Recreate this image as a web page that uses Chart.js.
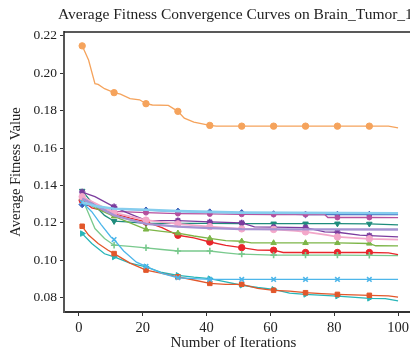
<!DOCTYPE html>
<html>
<head>
<meta charset="utf-8">
<script src="https://cdn.jsdelivr.net/npm/chart.js@4.4.1/dist/chart.umd.min.js"></script>
<style>
  html, body { margin: 0; padding: 0; background: #fff; overflow: hidden; }
  #wrap { width: 420px; height: 357px; }
</style>
</head>
<body>
<div id="wrap"><canvas id="chart" width="420" height="357"></canvas></div>
<script>
const chartTitle = "Average Fitness Convergence Curves on Brain_Tumor_1";

// iterations that carry a marker
const markerIters = [1, 11, 21, 31, 41, 51, 61, 71, 81, 91];
const xTicks = [0, 20, 40, 60, 80, 100];
const yTicks = [0.08, 0.10, 0.12, 0.14, 0.16, 0.18, 0.20, 0.22];

// [iteration, average fitness]
const orangeCurve = [[1,0.2146],[3,0.207],[5,0.1944],[6,0.194],[8,0.1917],[11,0.1896],[13,0.1888],[16,0.1864],[19,0.1858],[21,0.1837],[23,0.183],[28,0.1828],[31,0.1796],[33,0.176],[36,0.1738],[41,0.1721],[43,0.1717],[51,0.1717],[61,0.1717],[71,0.1717],[81,0.1717],[91,0.1717],[97,0.1717],[100,0.1708]];
const blueCurve = [[1,0.1298],[11,0.1275],[21,0.1268],[31,0.1262],[41,0.1258],[51,0.1254],[61,0.1248],[71,0.1245],[81,0.1245],[91,0.1245],[100,0.1245]];
const lightBlueCurve = [[1,0.131],[5,0.129],[11,0.1276],[21,0.127],[31,0.1263],[41,0.1259],[51,0.1255],[100,0.1252]];
const magentaCurve = [[1,0.133],[5,0.129],[11,0.1262],[21,0.1255],[31,0.125],[41,0.1248],[51,0.1246],[61,0.1245],[71,0.1245],[77,0.1245],[78,0.1229],[81,0.1229],[91,0.1229],[100,0.1228]];
const tealCurve = [[1,0.1371],[4,0.131],[8,0.124],[11,0.1209],[15,0.1205],[21,0.1197],[31,0.1197],[41,0.1197],[51,0.1196],[61,0.1196],[71,0.1196],[81,0.1196],[91,0.1195],[100,0.119]];
const purpleCurve = [[1,0.1365],[5,0.134],[11,0.1286],[15,0.1255],[21,0.1214],[31,0.1212],[41,0.1205],[51,0.12],[55,0.1179],[61,0.1177],[71,0.1175],[77,0.1152],[81,0.115],[88,0.1135],[91,0.1132],[100,0.1125]];
const lavenderCurve = [[1,0.133],[11,0.124],[21,0.1195],[31,0.118],[41,0.1172],[51,0.1167],[100,0.1165]];
const pinkCurve = [[1,0.134],[11,0.1255],[21,0.1215],[31,0.1195],[41,0.118],[51,0.1168],[61,0.1165],[68,0.1158],[71,0.1152],[78,0.1135],[81,0.1125],[91,0.1115],[100,0.1111]];
const greenCurve = [[1,0.134],[5,0.128],[11,0.1235],[16,0.12],[21,0.1165],[26,0.1155],[31,0.1145],[36,0.113],[41,0.1117],[46,0.1105],[51,0.1102],[54,0.1093],[61,0.1093],[71,0.1093],[81,0.1093],[91,0.109],[93,0.1078],[100,0.1077]];
const redCurve = [[1,0.1321],[4,0.128],[8,0.1265],[11,0.125],[16,0.1225],[21,0.1205],[26,0.1175],[31,0.1134],[36,0.112],[41,0.1098],[46,0.108],[51,0.1068],[56,0.1055],[61,0.1054],[64,0.1042],[71,0.1042],[81,0.1042],[91,0.1042],[97,0.104],[100,0.1031]];
const lightGreenCurve = [[1,0.133],[3,0.125],[5,0.117],[8,0.1117],[11,0.1081],[16,0.1075],[21,0.1067],[26,0.1058],[31,0.105],[41,0.105],[46,0.104],[50,0.1033],[51,0.1033],[61,0.1028],[71,0.1028],[81,0.1028],[91,0.1027],[100,0.1025]];
const skyCurve = [[1,0.131],[4,0.126],[7,0.119],[10,0.1125],[11,0.1111],[14,0.105],[18,0.099],[21,0.0968],[26,0.093],[31,0.0907],[36,0.0902],[41,0.0898],[51,0.0898],[61,0.0898],[71,0.0898],[81,0.0898],[91,0.0898],[100,0.0898]];
const vermilionCurve = [[1,0.1182],[3,0.1135],[6,0.109],[9,0.1055],[11,0.1036],[16,0.0985],[21,0.0948],[26,0.093],[31,0.0912],[36,0.0895],[41,0.0877],[46,0.0872],[51,0.0872],[56,0.085],[61,0.084],[66,0.0835],[71,0.0827],[76,0.0822],[81,0.0818],[91,0.0813],[97,0.081],[100,0.0804]];
const cyanCurve = [[1,0.1143],[4,0.109],[8,0.1035],[11,0.1018],[16,0.0985],[21,0.0965],[26,0.0935],[31,0.092],[36,0.091],[41,0.0902],[46,0.0885],[51,0.0867],[56,0.0855],[61,0.0845],[66,0.0825],[71,0.0818],[81,0.0809],[91,0.0797],[96,0.0795],[100,0.0783]];

const serif = "'Liberation Serif', 'DejaVu Serif', serif";

function series(data, color, style, extra) {
  return Object.assign({
    data: data.map(p => ({ x: p[0], y: p[1] })),
    borderColor: color,
    backgroundColor: color,
    pointBackgroundColor: color,
    pointBorderColor: color,
    borderWidth: 1.3,
    pointStyle: style,
    pointBorderWidth: 1,
    pointRadius: ctx => (style && markerIters.includes(ctx.raw.x)) ? 3.2 : 0,
    tension: 0
  }, extra || {});
}

// top frame line of the axes box + the title, which starts a little left of the plot
// and runs off the right edge like in the source figure
const frame = {
  id: "frame",
  afterDraw(chart) {
    const { ctx, chartArea } = chart;
    ctx.save();
    ctx.strokeStyle = "#222";
    ctx.lineWidth = 1.5;
    ctx.beginPath();
    ctx.moveTo(chartArea.left, chartArea.top);
    ctx.lineTo(chartArea.right, chartArea.top);
    ctx.stroke();
    ctx.fillStyle = "#222";
    ctx.font = "15.5px " + serif;
    ctx.textAlign = "left";
    ctx.textBaseline = "middle";
    ctx.fillText(chartTitle, chartArea.left - 6, 14.5);
    ctx.restore();
  }
};

new Chart(document.getElementById("chart"), {
  type: "line",
  data: {
    datasets: [
      series(lightBlueCurve, "#86cdee", false, { borderWidth: 2.6 }),
      series(lavenderCurve, "#a593d2", false, { borderWidth: 2.4 }),
      series(pinkCurve, "#f3a7c9", "circle", { borderWidth: 1.8 }),
      series(skyCurve, "#4db6ea", "crossRot", { pointBorderWidth: 1.6 }),
      series(lightGreenCurve, "#79c98d", "cross", { pointBorderWidth: 1.6 }),
      series(greenCurve, "#7db548", "triangle"),
      series(redCurve, "#e8262b", "circle"),
      series(purpleCurve, "#7b3c9e", "star", { pointBorderWidth: 1.6 }),
      series(tealCurve, "#1f8c7c", "triangle", { pointRotation: 180 }),
      series(magentaCurve, "#b5509e", "circle", { pointRadius: ctx => markerIters.includes(ctx.raw.x) ? 2.5 : 0 }),
      series(blueCurve, "#3a5db8", "rectRot"),
      series(vermilionCurve, "#e2572b", "rect"),
      series(cyanCurve, "#27b5b8", "triangle", { pointRotation: 90 }),
      series(orangeCurve, "#f5a35c", "circle")
    ]
  },
  options: {
    responsive: false,
    animation: false,
    events: [],
    layout: { padding: { left: 0, right: 6, top: 32, bottom: 0 } },
    plugins: {
      legend: { display: false },
      tooltip: { enabled: false },
      title: { display: false }
    },
    scales: {
      x: {
        type: "linear",
        min: -4.7,
        max: 105,
        afterBuildTicks: axis => { axis.ticks = xTicks.map(v => ({ value: v })); },
        afterFit: axis => { axis.height = 45; },
        grid: { drawOnChartArea: false, tickLength: 4, color: "#333", tickWidth: 1 },
        border: { color: "#333", width: 2 },
        ticks: { color: "#222", padding: 3, maxRotation: 0, font: { family: serif, size: 14.5 } },
        title: { display: true, text: "Number of Iterations   ", color: "#222", font: { family: serif, size: 15 }, padding: { top: 0, bottom: 5 } }
      },
      y: {
        type: "linear",
        min: 0.0724,
        max: 0.222,
        afterBuildTicks: axis => { axis.ticks = yTicks.map(v => ({ value: v })); },
        afterFit: axis => { axis.width = 64; },
        grid: { drawOnChartArea: false, tickLength: 4, color: "#333", tickWidth: 1 },
        border: { color: "#555", width: 2 },
        ticks: { color: "#222", padding: 3, font: { family: serif, size: 13.5 }, callback: v => v.toFixed(2) },
        title: { display: true, text: "Average Fitness Value", color: "#222", font: { family: serif, size: 14.5 }, padding: { top: 7, bottom: 0 } }
      }
    }
  },
  plugins: [frame]
});
</script>
</body>
</html>
